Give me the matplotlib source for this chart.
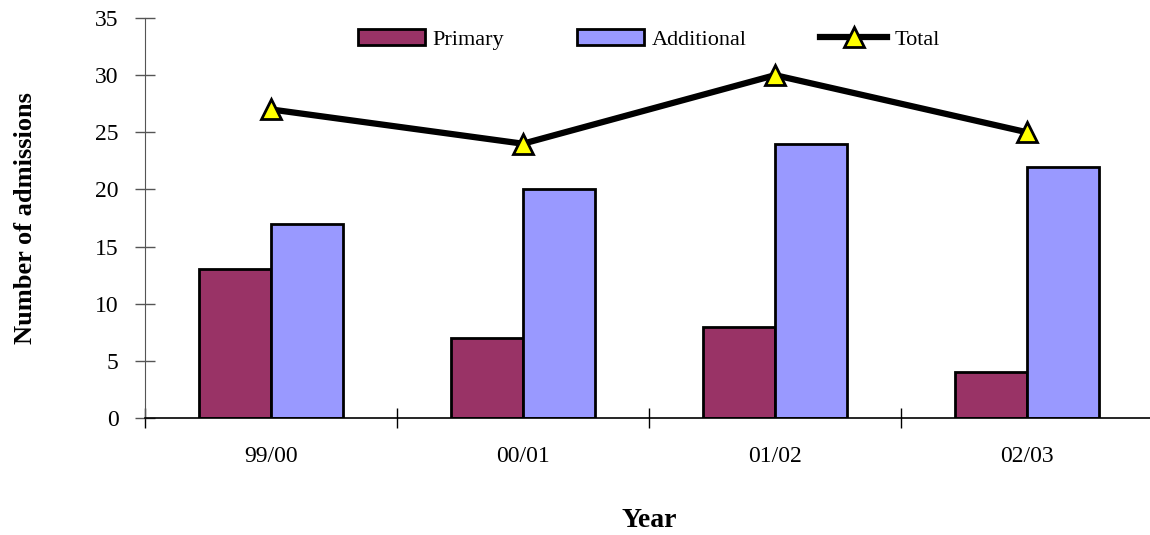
import matplotlib
matplotlib.use("Agg")
import matplotlib.pyplot as plt
from matplotlib.patches import Patch
from matplotlib.lines import Line2D
import numpy as np

years = ["99/00", "00/01", "01/02", "02/03"]
primary = [13, 7, 8, 4]
additional = [17, 20, 24, 22]
total = [27, 24, 30, 25]

plt.rcParams["font.family"] = ["Liberation Serif", "DejaVu Serif"]

fig = plt.figure(figsize=(11.5, 5.35), dpi=100)
ax = fig.add_axes([145 / 1150, 117 / 535, 1008 / 1150, 400 / 535])

x = np.arange(len(years))
w = 0.286
ax.bar(x - w / 2, primary, w, color="#993366", edgecolor="black", linewidth=2, zorder=2)
ax.bar(x + w / 2, additional, w, color="#9999FF", edgecolor="black", linewidth=2, zorder=2)
ax.plot(x, total, color="black", linewidth=4.5, marker="^", markersize=15,
        markerfacecolor="#FFFF00", markeredgecolor="black", markeredgewidth=2, zorder=3)

ax.set_xlim(-0.5, 3.5)
ax.set_ylim(0, 35)
ax.set_yticks(range(0, 36, 5))
ax.set_xticks(x)
ax.set_xticklabels(years)
ax.set_xticks(np.arange(-0.5, 3.6, 1), minor=True)
ax.tick_params(axis="x", which="major", length=0, pad=20, labelsize=17)
ax.tick_params(axis="x", which="minor", length=14, direction="inout", width=1)
ax.tick_params(axis="y", length=14, direction="inout", width=1, pad=12, labelsize=17,
               color="#555555")

for s in ["top", "right"]:
    ax.spines[s].set_visible(False)
ax.spines["left"].set_color("#555555")
ax.spines["bottom"].set_linewidth(1.2)

ax.set_ylabel("Number of admissions", fontsize=19, fontweight="bold", labelpad=42)
ax.set_xlabel("Year", fontsize=20, fontweight="bold", labelpad=30)

handles = [
    Patch(facecolor="#993366", edgecolor="black", linewidth=2),
    Patch(facecolor="#9999FF", edgecolor="black", linewidth=2),
    Line2D([], [], color="black", linewidth=4.5, marker="^", markersize=15,
           markerfacecolor="#FFFF00", markeredgecolor="black", markeredgewidth=2),
]
ax.legend(handles, ["Primary", "Additional", "Total"], loc="center",
          bbox_to_anchor=(0.5, 0.946), ncol=3, frameon=False, fontsize=16,
          handlelength=3.0, handleheight=0.7, columnspacing=3.3,
          handletextpad=0.35, numpoints=1)

fig.savefig("out.png", dpi=100)
